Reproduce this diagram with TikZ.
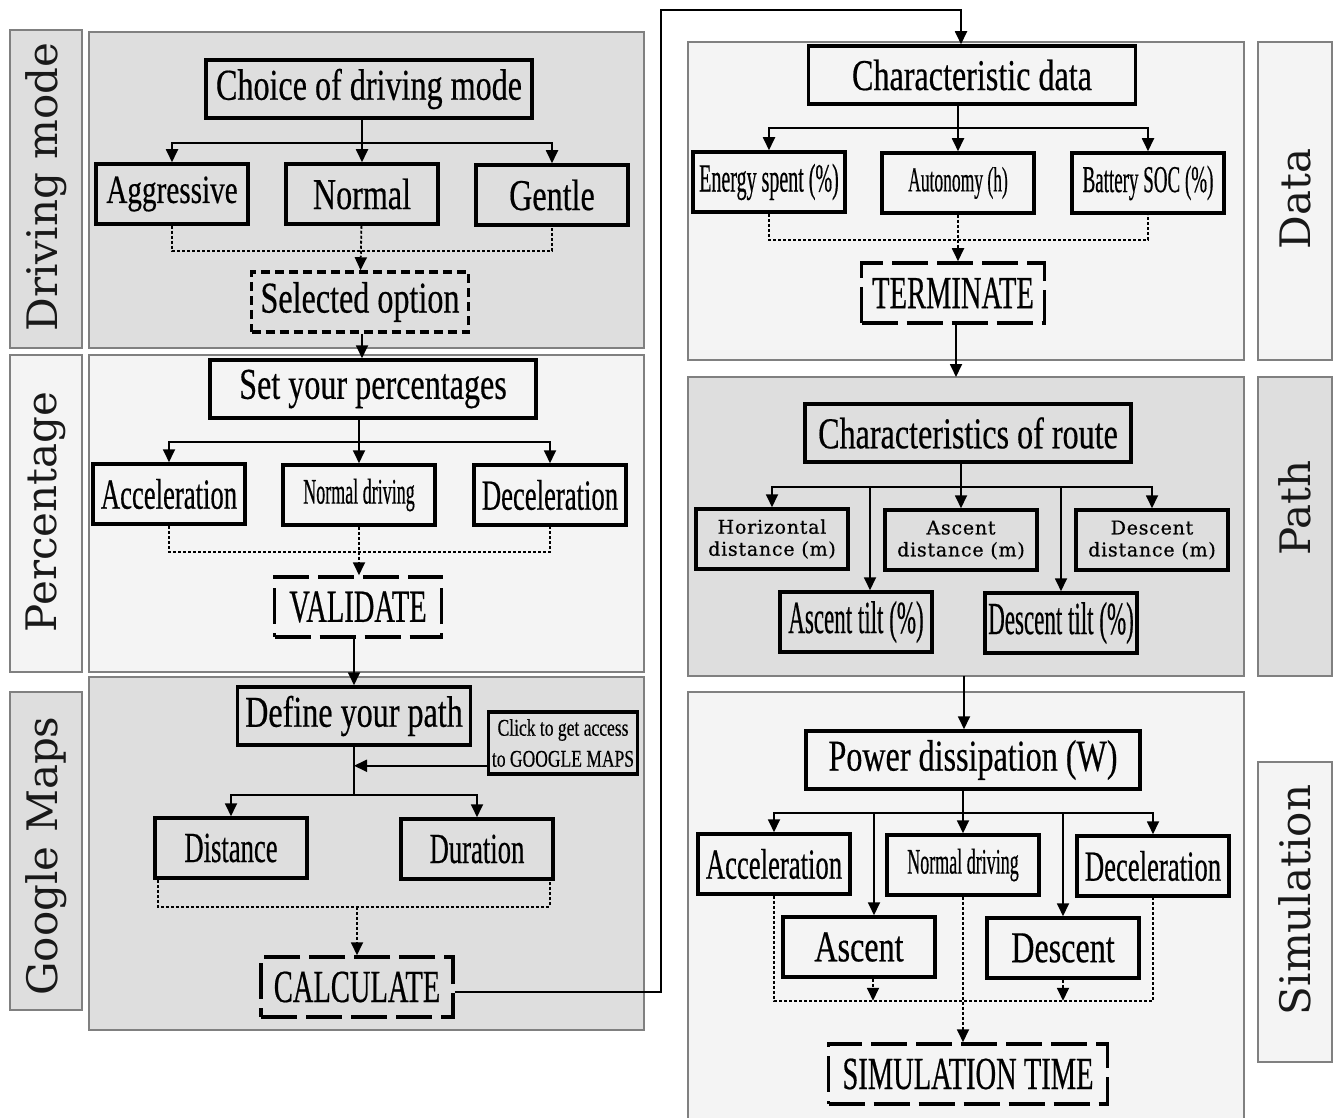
\documentclass[tikz,border=0pt]{standalone}
\usepackage{fontspec}
\setmainfont{Liberation Serif}
\newfontfamily\boxfont[FakeStretch=0.73,FakeBold=0.4]{Liberation Serif}
\newfontfamily\condfont[FakeStretch=0.62,FakeBold=0.4]{Liberation Serif}
\newfontfamily\narrowfont[FakeStretch=0.5,FakeBold=0.4]{Liberation Serif}
\newfontfamily\sidefont{DejaVu Serif}
\newfontfamily\widefont[FakeBold=0.6,LetterSpace=4]{DejaVu Serif}
\usetikzlibrary{arrows.meta,calc}

\definecolor{darkpanel}{gray}{0.87}
\definecolor{lightpanel}{gray}{0.955}
\definecolor{rim}{gray}{0.5}

\tikzset{
  panel/.style={draw=rim, line width=1.5pt, fill=#1},
  sidetext/.style={rotate=90, font=\sidefont\fontsize{42}{44}\selectfont, text=black!90},
  box/.style={draw, line width=3.5pt, inner sep=0pt, minimum width=152pt, minimum height=60pt, text=black},
  title/.style={box, minimum width=#1, minimum height=58pt, font=\boxfont\fontsize{44}{46}\selectfont},
  pick/.style={box, font=\boxfont\fontsize{44}{46}\selectfont},
  part/.style={box, font=\condfont\fontsize{43}{44}\selectfont},
  slim/.style={box, font=\narrowfont\fontsize{#1}{#1}\selectfont},
  finish/.style={box, minimum width=#1, dash pattern=on 36pt off 9pt, font=\condfont\fontsize{46}{48}\selectfont},
  link/.style={line width=1.8pt},
  arr/.style={link, -{Triangle[length=13pt,width=12pt]}},
  dots/.style={line width=1.8pt, dash pattern=on 3pt off 2pt},
  dotarr/.style={dots, -{Triangle[length=13pt,width=12pt]}},
}

\begin{document}
\begin{tikzpicture}[x=1pt, y=-1pt]
  \useasboundingbox (0,0) rectangle (1334,1118);

  % panels
  \draw[panel=darkpanel] (89,32) rectangle (644,348);
  \draw[panel=darkpanel] (10,30) rectangle (82,348);
  \draw[panel=lightpanel] (89,355) rectangle (644,672);
  \draw[panel=lightpanel] (10,355) rectangle (82,672);
  \draw[panel=darkpanel] (89,677) rectangle (644,1030);
  \draw[panel=darkpanel] (10,692) rectangle (82,1010);
  \draw[panel=lightpanel] (688,42) rectangle (1244,360);
  \draw[panel=lightpanel] (1258,42) rectangle (1332,360);
  \draw[panel=darkpanel] (688,377) rectangle (1244,676);
  \draw[panel=darkpanel] (1258,377) rectangle (1332,676);
  \draw[panel=lightpanel] (688,1125) |- (1244,692) -- (1244,1125);
  \draw[panel=lightpanel] (1258,762) rectangle (1332,1062);

  \node[sidetext] (ldrive) at (46,187) {Driving mode};
  \node[sidetext] (lperc) at (46,512) {Percentage};
  \node[sidetext] (lmaps) at (46,856) {Google Maps};
  \node[sidetext] (ldata) at (1295,199) {Data};
  \node[sidetext] (lpath) at (1295,508) {Path};
  \node[sidetext] (lsim) at (1295,900) {Simulation};

  % driving mode
  \node[title=326pt] (choice) at (369,89) {Choice of driving mode};
  \node[pick, font=\boxfont\fontsize{40}{42}\selectfont] (aggr) at (172,194) {Aggressive};
  \node[pick] (normal) at (362,194) {Normal};
  \node[pick] (gentle) at (552,195) {Gentle};
  \node[pick, minimum width=217pt, dash pattern=on 9pt off 5pt] (sel) at (360,302) {Selected option};

  % percentage
  \node[title=326pt] (setp) at (373,389) {Set your percentages};
  \node[part] (accel) at (169,494) {Acceleration};
  \node[slim=36] (normd) at (359,495) {Normal driving};
  \node[part] (decel) at (550,495) {Deceleration};
  \node[finish=167pt] (valid) at (358,607) {VALIDATE};

  % google maps
  \node[title=233pt] (define) at (354,716) {Define your path};
  \node[box, minimum width=149pt, minimum height=62pt, align=center,
        font=\boxfont\fontsize{24}{31}\selectfont] (click) at (563,743) {Click to get access\\to GOOGLE MAPS};
  \node[part] (dist) at (231,848) {Distance};
  \node[part] (dur) at (477,849) {Duration};
  \node[finish=192pt] (calc) at (357,987) {CALCULATE};

  % data
  \node[title=327pt] (chard) at (972,75) {Characteristic data};
  \node[slim=40] (energy) at (769,182) {Energy spent (\%)};
  \node[slim=35] (auton) at (958,183) {Autonomy (h)};
  \node[slim=38] (batt) at (1148,183) {Battery SOC (\%)};
  \node[finish=183pt] (term) at (953,293) {TERMINATE};

  % path
  \node[title=326pt] (route) at (968,433) {Characteristics of route};
  \node[box, align=center, font=\widefont\fontsize{19}{22}\selectfont] (hdist) at (772,539) {Horizontal\\distance (m)};
  \node[box, align=center, font=\widefont\fontsize{19}{22}\selectfont] (adist) at (961,540) {Ascent\\distance (m)};
  \node[box, align=center, font=\widefont\fontsize{19}{22}\selectfont] (ddist) at (1152,540) {Descent\\distance (m)};
  \node[slim=46] (atilt) at (856,622) {Ascent tilt (\%)};
  \node[slim=46] (dtilt) at (1061,623) {Descent tilt (\%)};

  % simulation
  \node[title=334pt] (power) at (973,760) {Power dissipation (W)};
  \node[part] (accel2) at (774,864) {Acceleration};
  \node[slim=36] (normd2) at (963,865) {Normal driving};
  \node[part] (decel2) at (1153,866) {Deceleration};
  \node[pick] (ascent) at (859,947) {Ascent};
  \node[pick] (descent) at (1063,948) {Descent};
  \node[finish=279pt] (simt) at (968,1074) {SIMULATION TIME};

  % connectors, driving mode
  \draw[arr] (choice.south -| normal) -- (normal);
  \draw[arr] (choice.south -| normal) -- ++(0,23) -| (aggr);
  \draw[arr] (choice.south -| normal) -- ++(0,23) -| (gentle);
  \draw[dots] (aggr.south) -- ++(0,25) -| (gentle.south);
  \draw[dotarr] (normal) -- (sel);
  \draw[arr] (sel.south -| normal) -- (setp.north -| normal);

  % percentage
  \draw[arr] (setp.south -| normd) -- (normd);
  \draw[arr] (setp.south -| normd) -- ++(0,22) -| (accel);
  \draw[arr] (setp.south -| normd) -- ++(0,22) -| (decel);
  \draw[dots] (accel.south) -- ++(0,26) -| (decel.south);
  \draw[dotarr] (normd) -- (normd |- valid.north);
  \draw[arr] (valid.south -| define) -- (define);

  % google maps
  \draw[link] (define.south) -- ++(0,48) coordinate (split);
  \coordinate (gm) at ($(click.south west)+(0,-10)$);
  \draw[arr] (gm) -- (gm -| define.south);
  \draw[arr] (split) -| (dist);
  \draw[arr] (split) -| (dur);
  \coordinate (djoin) at ($(dist.south west)+(5,27)$);
  \draw[dots] ($(dist.south west)+(5,0)$) -- (djoin) -| ($(dur.south east)+(-5,0)$);
  \draw[dotarr] (djoin -| calc) -- (calc);
  \draw[arr] ($(calc.east)+(0,5)$) -| (661,10) -| ($(chard.north)+(-11,0)$);

  % data
  \draw[arr] (chard.south -| auton) -- (auton);
  \draw[arr] (chard.south -| auton) -- ++(0,22) -| (energy);
  \draw[arr] (chard.south -| auton) -- ++(0,22) -| (batt);
  \draw[dots] (energy.south) -- ++(0,26) -| (batt.south);
  \draw[dotarr] (auton) -- (auton |- term.north);
  \coordinate (pathtop) at (956,377);
  \draw[arr] (term.south -| pathtop) -- (pathtop);

  % path
  \draw[link] (route.south -| adist) -- ++(0,23) coordinate (rsplit);
  \draw[arr] (rsplit) -- (adist);
  \draw[arr] (rsplit) -| (hdist);
  \draw[arr] (rsplit) -| (ddist);
  \coordinate (atin) at ($(atilt.north)+(14,0)$);
  \draw[arr] (atin |- rsplit) -- (atin);
  \draw[arr] (dtilt.north |- rsplit) -- (dtilt);
  \coordinate (pathbot) at (964,676);
  \draw[arr] (pathbot) -- (pathbot |- power.north);

  % simulation
  \draw[link] (power.south -| normd2) -- ++(0,22) coordinate (psplit);
  \draw[arr] (psplit) -- (normd2);
  \draw[arr] (psplit) -| (accel2);
  \draw[arr] (psplit) -| (decel2);
  \coordinate (asin) at ($(ascent.north)+(15,0)$);
  \draw[arr] (asin |- psplit) -- (asin);
  \draw[arr] (descent.north |- psplit) -- (descent);
  \draw[dots] (accel2.south) -- ++(0,105) coordinate (simbar) -| (decel2.south);
  \coordinate (asout) at ($(ascent.south)+(14,0)$);
  \draw[dotarr] (asout) -- (asout |- simbar);
  \draw[dotarr] (descent.south) -- (descent.south |- simbar);
  \draw[dotarr] (normd2) -- (normd2 |- simt.north);
\end{tikzpicture}
\end{document}
